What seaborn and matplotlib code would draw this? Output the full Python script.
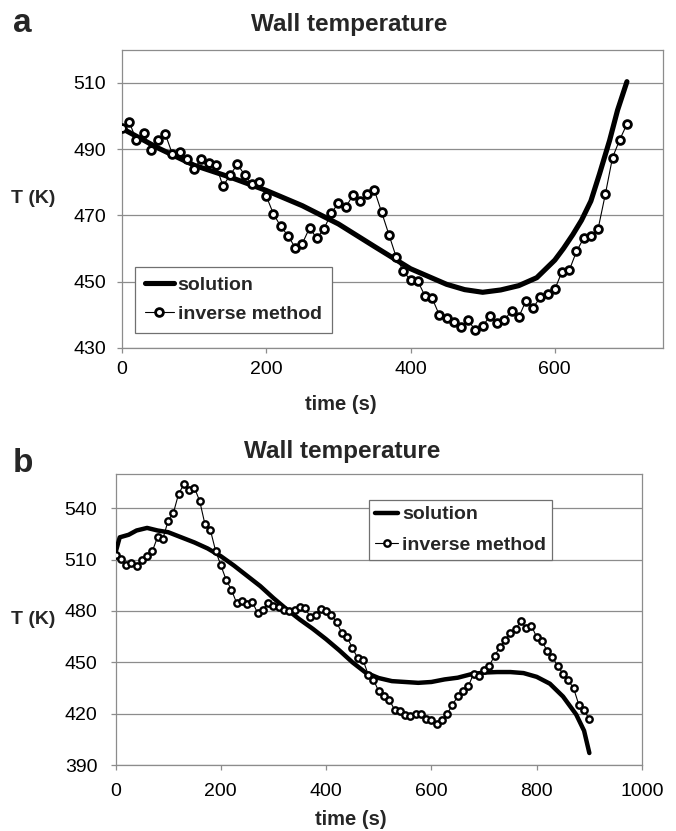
import matplotlib
matplotlib.use("Agg")
import matplotlib.pyplot as plt
import seaborn as sns
import numpy as np
import pandas as pd

sns.set_style("white")
plt.rcParams["font.family"] = ["Liberation Sans", "DejaVu Sans"]

# ---------------- data: panel a ----------------
sol_a_time = [0, 50, 100, 150, 200, 250, 300, 350, 400, 450, 475, 500, 525, 550,
              575, 600, 612, 625, 637, 650, 662, 676, 687, 700]
sol_a_T = [496.2, 490.3, 485.1, 481.5, 477.5, 472.9, 467.4, 460.6, 453.9, 449.2,
           447.6, 446.8, 447.5, 448.8, 451.2, 456.5, 460.0, 464.2, 468.5, 474.3,
           482.5, 492.6, 501.7, 510.3]

inv_a_time = list(range(0, 701, 10))
inv_a_T = [496.4, 498.2, 492.6, 494.9, 489.8, 492.6, 494.5, 488.4, 489.1, 486.9,
           484.0, 487.1, 485.8, 485.3, 478.8, 482.2, 485.4, 482.2, 479.3, 480.0,
           475.8, 470.4, 466.7, 463.9, 460.3, 461.5, 466.2, 463.1, 465.9, 470.6,
           473.7, 472.4, 476.0, 474.3, 476.3, 477.5, 470.9, 464.2, 457.5, 453.2,
           450.4, 450.2, 445.7, 445.0, 439.9, 439.1, 437.9, 436.3, 438.3, 435.3,
           436.6, 439.6, 437.6, 438.3, 441.3, 439.3, 444.2, 442.1, 445.4, 446.4,
           447.7, 453.0, 453.4, 459.1, 463.1, 463.9, 465.9, 476.3, 487.4, 492.8,
           497.5]

# ---------------- data: panel b ----------------
sol_b_time = [0, 8, 25, 40, 60, 80, 100, 125, 150, 175, 200, 225, 250, 275, 300,
              325, 350, 375, 400, 425, 450, 475, 500, 525, 550, 575, 600, 625,
              650, 675, 700, 725, 750, 775, 800, 825, 850, 875, 890, 900]
sol_b_T = [514.0, 523.0, 524.5, 527.0, 528.5, 527.0, 526.0, 523.0, 520.0, 516.5,
           512.0, 506.5, 500.5, 494.5, 487.5, 481.0, 475.0, 469.5, 463.5, 457.0,
           450.0, 444.0, 440.8, 439.0, 438.5, 438.0, 438.5, 440.0, 441.0, 443.0,
           444.0, 444.3, 444.3, 443.7, 441.5, 437.5, 430.0, 419.5, 410.0, 397.0]

inv_b_time = list(range(0, 901, 10))
inv_b_T = [512.9, 510.4, 506.7, 508.1, 506.1, 510.0, 512.3, 514.9, 523.3, 522.1,
           532.8, 537.3, 548.6, 553.9, 550.5, 551.9, 544.1, 530.5, 527.5, 515.3,
           506.7, 498.3, 492.5, 484.7, 485.6, 484.3, 485.1, 478.8, 480.8, 484.7,
           482.7, 482.3, 480.8, 479.8, 480.8, 482.1, 481.7, 476.5, 477.8, 481.3,
           479.8, 477.8, 473.3, 467.1, 464.6, 458.3, 452.5, 451.5, 442.8, 439.8,
           433.0, 430.5, 428.1, 422.3, 421.3, 419.4, 418.4, 419.8, 419.9, 417.0,
           416.4, 414.1, 416.4, 419.8, 425.2, 430.1, 433.0, 435.9, 443.3, 441.8,
           445.7, 448.0, 453.9, 458.7, 463.2, 467.1, 469.5, 473.9, 470.0, 471.4,
           464.6, 462.6, 456.4, 453.1, 447.6, 443.3, 439.4, 434.9, 425.2, 421.9,
           416.8]

xticks_a = [0, 200, 400, 600]
yticks_a = [430, 450, 470, 490, 510]
xticks_b = [0, 200, 400, 600, 800, 1000]
yticks_b = [390, 420, 450, 480, 510, 540]

title = "Wall temperature"
GRAY = "#8c8c8c"

W, H = 676, 831
fig = plt.figure(figsize=(W / 100, H / 100), dpi=100)
fig.patch.set_facecolor("white")


def px_axes(left, top, right, bottom):
    return fig.add_axes([left / W, 1 - bottom / H, (right - left) / W, (bottom - top) / H])


ax_a = px_axes(122, 49.5, 663, 348)
ax_b = px_axes(115.5, 474, 642, 765)


def draw(ax, st, sT, it, iT, sol_lw, ms, mew):
    sns.lineplot(x=st, y=sT, ax=ax, color="black", lw=sol_lw, label="solution",
                 zorder=3)
    sns.lineplot(x=it, y=iT, ax=ax, color="black", lw=0.8, marker="o",
                 markersize=ms, markerfacecolor="white", markeredgecolor="black",
                 markeredgewidth=mew, label="inverse method", zorder=4)


def style(ax, xlim, xt, ylim, yt, xpad, ypad):
    ax.set_xlim(*xlim)
    ax.set_ylim(*ylim)
    ax.set_xticks(xt)
    ax.set_yticks(yt)
    ax.grid(axis="y", color=GRAY, lw=0.9)
    ax.grid(axis="x", visible=False)
    ax.set_axisbelow(True)
    for sp in ax.spines.values():
        sp.set_visible(True)
        sp.set_color(GRAY)
        sp.set_linewidth(0.9)
    ax.tick_params(axis="both", direction="out", length=3.6, width=0.9,
                   color=GRAY, labelsize=14, labelcolor="black")
    ax.tick_params(axis="x", pad=xpad, bottom=True)
    ax.tick_params(axis="y", pad=ypad, left=True)


draw(ax_a, sol_a_time, sol_a_T, inv_a_time, inv_a_T, 3.7, 5.6, 2.0)
style(ax_a, (0, 750), xticks_a, (430, 520), yticks_a, 6.0, 8.0)
draw(ax_b, sol_b_time, sol_b_T, inv_b_time, inv_b_T, 3.2, 4.6, 1.7)
style(ax_b, (0, 1000), xticks_b, (390, 560), yticks_b, 9.5, 9.5)

for ax, lx, xl in [(ax_a, -0.164, (0.405, -0.19)), (ax_b, -0.156, (0.446, -0.189))]:
    ax.set_ylabel("T (K)", rotation=0, fontsize=14, fontweight="bold",
                  ha="center", va="center")
    ax.yaxis.set_label_coords(lx, 0.5)
    ax.set_xlabel("time (s)", fontsize=14.5, fontweight="bold", va="center")
    ax.xaxis.set_label_coords(*xl)

base_kw = dict(prop={"weight": "bold", "size": 14}, frameon=True,
               fancybox=False, framealpha=1, edgecolor="#707070",
               handletextpad=0.2, borderaxespad=0)
la = ax_a.legend(loc="lower left", bbox_to_anchor=((135 - 122) / 541, (348 - 333) / 298.5),
                 handlelength=1.5, labelspacing=0.6, borderpad=0.5, **base_kw)
lb = ax_b.legend(loc="upper left", bbox_to_anchor=((369 - 115.5) / 526.5, (765 - 500) / 291),
                 handlelength=1.2, labelspacing=0.65, borderpad=0.3, **base_kw)
for lg in (la, lb):
    lg.get_frame().set_linewidth(0.9)

fig.text(13 / W, 1 - 32 / H, "a", fontsize=24, fontweight="bold", ha="left", va="baseline")
fig.text(13 / W, 1 - 472 / H, "b", fontsize=24, fontweight="bold", ha="left", va="baseline")
fig.text(349 / W, 1 - 31 / H, title, fontsize=17.5, fontweight="bold", ha="center", va="baseline")
fig.text(342 / W, 1 - 458 / H, title, fontsize=17.5, fontweight="bold", ha="center", va="baseline")

fig.savefig("out.png", dpi=100, facecolor="white")
